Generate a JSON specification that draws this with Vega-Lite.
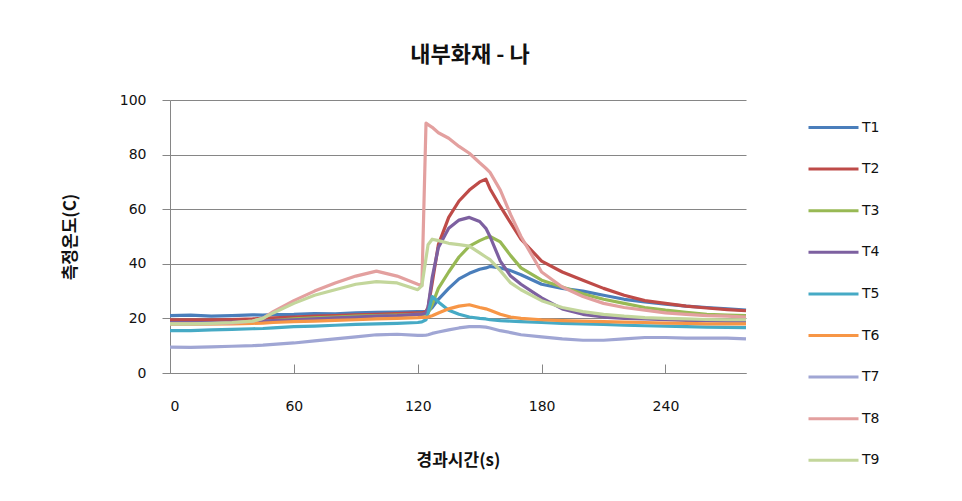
{
  "$schema": "https://vega.github.io/schema/vega-lite/v6.json",
  "width": 576,
  "height": 273,
  "autosize": "none",
  "padding": {"left": 170, "top": 100, "right": 216, "bottom": 128},
  "background": "white",
  "title": {"text": "내부화재 - 나", "font": "Noto Sans CJK KR", "fontSize": 22, "fontWeight": "bold", "color": "#111", "anchor": "middle", "offset": 26, "dx": 12},
  "data": {"values": [
    {"t": 0, "T1": 21, "T2": 19.5, "T3": 18, "T4": 18.5, "T5": 15.5, "T6": 18, "T7": 9.5, "T8": 18, "T9": 18},
    {"t": 10, "T1": 21.2, "T2": 19.5, "T3": 18, "T4": 18.5, "T5": 15.5, "T6": 18, "T7": 9.4, "T8": 18, "T9": 18},
    {"t": 20, "T1": 20.8, "T2": 19.5, "T3": 18.1, "T4": 18.5, "T5": 15.8, "T6": 18, "T7": 9.6, "T8": 18.1, "T9": 18.2},
    {"t": 30, "T1": 21, "T2": 19.6, "T3": 18.2, "T4": 18.6, "T5": 16, "T6": 18, "T7": 9.8, "T8": 18.3, "T9": 18.5},
    {"t": 40, "T1": 21.3, "T2": 19.8, "T3": 18.5, "T4": 18.8, "T5": 16.2, "T6": 18.2, "T7": 10, "T8": 19, "T9": 19},
    {"t": 45, "T1": 21.2, "T2": 20, "T3": 18.8, "T4": 19, "T5": 16.3, "T6": 18.3, "T7": 10.2, "T8": 20, "T9": 20},
    {"t": 50, "T1": 21.4, "T2": 20.2, "T3": 19.2, "T4": 19.2, "T5": 16.5, "T6": 18.5, "T7": 10.5, "T8": 22.5, "T9": 22},
    {"t": 60, "T1": 21.5, "T2": 20.5, "T3": 19.8, "T4": 19.5, "T5": 17, "T6": 18.8, "T7": 11, "T8": 26.5, "T9": 25.5},
    {"t": 70, "T1": 21.8, "T2": 20.8, "T3": 20.2, "T4": 19.8, "T5": 17.2, "T6": 19, "T7": 11.8, "T8": 30, "T9": 28.5},
    {"t": 80, "T1": 21.7, "T2": 21, "T3": 20.5, "T4": 20.2, "T5": 17.5, "T6": 19.3, "T7": 12.5, "T8": 33, "T9": 30.5},
    {"t": 90, "T1": 22, "T2": 21.3, "T3": 20.8, "T4": 20.5, "T5": 17.8, "T6": 19.5, "T7": 13.2, "T8": 35.5, "T9": 32.5},
    {"t": 100, "T1": 22.2, "T2": 21.5, "T3": 21, "T4": 20.8, "T5": 18, "T6": 19.8, "T7": 14, "T8": 37.3, "T9": 33.5},
    {"t": 110, "T1": 22.3, "T2": 21.8, "T3": 21.2, "T4": 21, "T5": 18.2, "T6": 20, "T7": 14.2, "T8": 35.5, "T9": 33},
    {"t": 120, "T1": 22.5, "T2": 22, "T3": 21.5, "T4": 21.5, "T5": 18.5, "T6": 20.3, "T7": 13.8, "T8": 32.5, "T9": 30.5},
    {"t": 122, "T1": 22.5, "T2": 22, "T3": 21.5, "T4": 21.5, "T5": 18.7, "T6": 20.4, "T7": 13.8, "T8": 32, "T9": 32},
    {"t": 124, "T1": 22.5, "T2": 22.5, "T3": 21.6, "T4": 22, "T5": 19.5, "T6": 20.4, "T7": 13.9, "T8": 91.5, "T9": 42},
    {"t": 125, "T1": 22.6, "T2": 24, "T3": 22, "T4": 24, "T5": 22, "T6": 20.5, "T7": 14, "T8": 91, "T9": 47},
    {"t": 127, "T1": 24, "T2": 33, "T3": 25, "T4": 35, "T5": 28, "T6": 21, "T7": 14.5, "T8": 90, "T9": 49},
    {"t": 130, "T1": 27, "T2": 47, "T3": 31, "T4": 46, "T5": 26, "T6": 22, "T7": 15, "T8": 88, "T9": 48.5},
    {"t": 135, "T1": 31, "T2": 57, "T3": 37, "T4": 53, "T5": 23, "T6": 23.5, "T7": 15.8, "T8": 86, "T9": 47.5},
    {"t": 140, "T1": 34.5, "T2": 63, "T3": 42.5, "T4": 56, "T5": 21.5, "T6": 24.5, "T7": 16.5, "T8": 83, "T9": 47},
    {"t": 145, "T1": 36.5, "T2": 67, "T3": 46.5, "T4": 57, "T5": 20.5, "T6": 25, "T7": 17, "T8": 80.5, "T9": 46.5},
    {"t": 150, "T1": 38, "T2": 70, "T3": 48.5, "T4": 55.5, "T5": 20, "T6": 24, "T7": 17, "T8": 77, "T9": 44},
    {"t": 153, "T1": 38.5, "T2": 71, "T3": 49.5, "T4": 53, "T5": 19.8, "T6": 23.5, "T7": 16.8, "T8": 75, "T9": 42.5},
    {"t": 155, "T1": 39, "T2": 67.5, "T3": 50, "T4": 50, "T5": 19.5, "T6": 23, "T7": 16.5, "T8": 73.5, "T9": 41.5},
    {"t": 160, "T1": 38.5, "T2": 61, "T3": 48, "T4": 41, "T5": 19.2, "T6": 21.5, "T7": 15.5, "T8": 67, "T9": 37.5},
    {"t": 165, "T1": 37.5, "T2": 55, "T3": 43, "T4": 35.5, "T5": 19, "T6": 20.5, "T7": 14.8, "T8": 58, "T9": 33},
    {"t": 170, "T1": 36, "T2": 49, "T3": 38.5, "T4": 32.5, "T5": 18.8, "T6": 20, "T7": 14, "T8": 50, "T9": 30.5},
    {"t": 180, "T1": 32.5, "T2": 41, "T3": 34, "T4": 27.5, "T5": 18.5, "T6": 19.5, "T7": 13.2, "T8": 37, "T9": 26.5},
    {"t": 190, "T1": 31, "T2": 37, "T3": 31.5, "T4": 23.5, "T5": 18.2, "T6": 19.2, "T7": 12.5, "T8": 31.5, "T9": 24},
    {"t": 200, "T1": 30, "T2": 34, "T3": 29, "T4": 21.5, "T5": 18, "T6": 19, "T7": 12, "T8": 28, "T9": 22.5},
    {"t": 210, "T1": 28.5, "T2": 31, "T3": 27, "T4": 20.5, "T5": 17.8, "T6": 18.8, "T7": 12, "T8": 25.5, "T9": 21.5},
    {"t": 220, "T1": 27, "T2": 28.5, "T3": 25.5, "T4": 20, "T5": 17.5, "T6": 18.6, "T7": 12.5, "T8": 24, "T9": 20.8},
    {"t": 230, "T1": 26, "T2": 26.5, "T3": 24, "T4": 19.8, "T5": 17.3, "T6": 18.5, "T7": 13, "T8": 23, "T9": 20.3},
    {"t": 240, "T1": 25.2, "T2": 25.5, "T3": 23, "T4": 19.5, "T5": 17.2, "T6": 18.3, "T7": 13, "T8": 22, "T9": 20},
    {"t": 250, "T1": 24.5, "T2": 24.5, "T3": 22.2, "T4": 19.3, "T5": 17, "T6": 18.2, "T7": 12.8, "T8": 21.5, "T9": 19.8},
    {"t": 260, "T1": 24, "T2": 23.8, "T3": 21.5, "T4": 19.2, "T5": 16.8, "T6": 18, "T7": 12.8, "T8": 21, "T9": 19.6},
    {"t": 270, "T1": 23.5, "T2": 23.2, "T3": 21.2, "T4": 19, "T5": 16.7, "T6": 18, "T7": 12.8, "T8": 20.8, "T9": 19.5},
    {"t": 279, "T1": 23, "T2": 22.8, "T3": 21, "T4": 19, "T5": 16.6, "T6": 18, "T7": 12.5, "T8": 20.5, "T9": 19.5}
  ]},
  "transform": [{"fold": ["T1", "T2", "T3", "T4", "T5", "T6", "T7", "T8", "T9"], "as": ["series", "temp"]}],
  "mark": {"type": "line", "strokeWidth": 3.2, "strokeJoin": "round"},
  "encoding": {
    "x": {
      "field": "t", "type": "quantitative",
      "scale": {"domain": [0, 279], "nice": false, "zero": false},
      "axis": {
        "values": [0, 60, 120, 180, 240], "title": "경과시간(s)", "grid": false,
        "tickSize": -9, "tickColor": "#868686", "domainColor": "#868686",
        "labelPadding": 35, "labelFont": "DejaVu Sans", "labelFontSize": 14, "labelColor": "#111",
        "titleFont": "Noto Sans CJK KR", "titleFontSize": 17, "titleFontWeight": "bold", "titleColor": "#111",
        "titlePadding": 39
      }
    },
    "y": {
      "field": "temp", "type": "quantitative",
      "scale": {"domain": [0, 100], "nice": false},
      "axis": {
        "values": [0, 20, 40, 60, 80, 100], "title": "측정온도(C)",
        "grid": true, "gridColor": "#868686", "gridWidth": 1.2,
        "tickSize": 8, "tickColor": "#868686", "domainColor": "#868686",
        "labelPadding": 16, "labelFont": "DejaVu Sans", "labelFontSize": 14, "labelColor": "#111",
        "titleFont": "Noto Sans CJK KR", "titleFontSize": 17, "titleFontWeight": "bold", "titleColor": "#111",
        "titlePadding": 40
      }
    },
    "color": {
      "field": "series", "type": "nominal",
      "scale": {
        "domain": ["T1", "T2", "T3", "T4", "T5", "T6", "T7", "T8", "T9"],
        "range": ["#4A7EBB", "#BE4B48", "#98B954", "#7D60A0", "#46AAC5", "#F79646", "#A0A6D4", "#E3A09F", "#C3D69B"]
      },
      "legend": {
        "orient": "none", "legendX": 637, "legendY": 1, "title": null,
        "symbolType": "stroke", "symbolSize": 2500, "symbolStrokeWidth": 3,
        "labelFont": "DejaVu Sans", "labelFontSize": 14, "labelColor": "#111", "labelOffset": 2,
        "rowPadding": 7.6
      }
    }
  },
  "config": {"view": {"stroke": null}}
}
